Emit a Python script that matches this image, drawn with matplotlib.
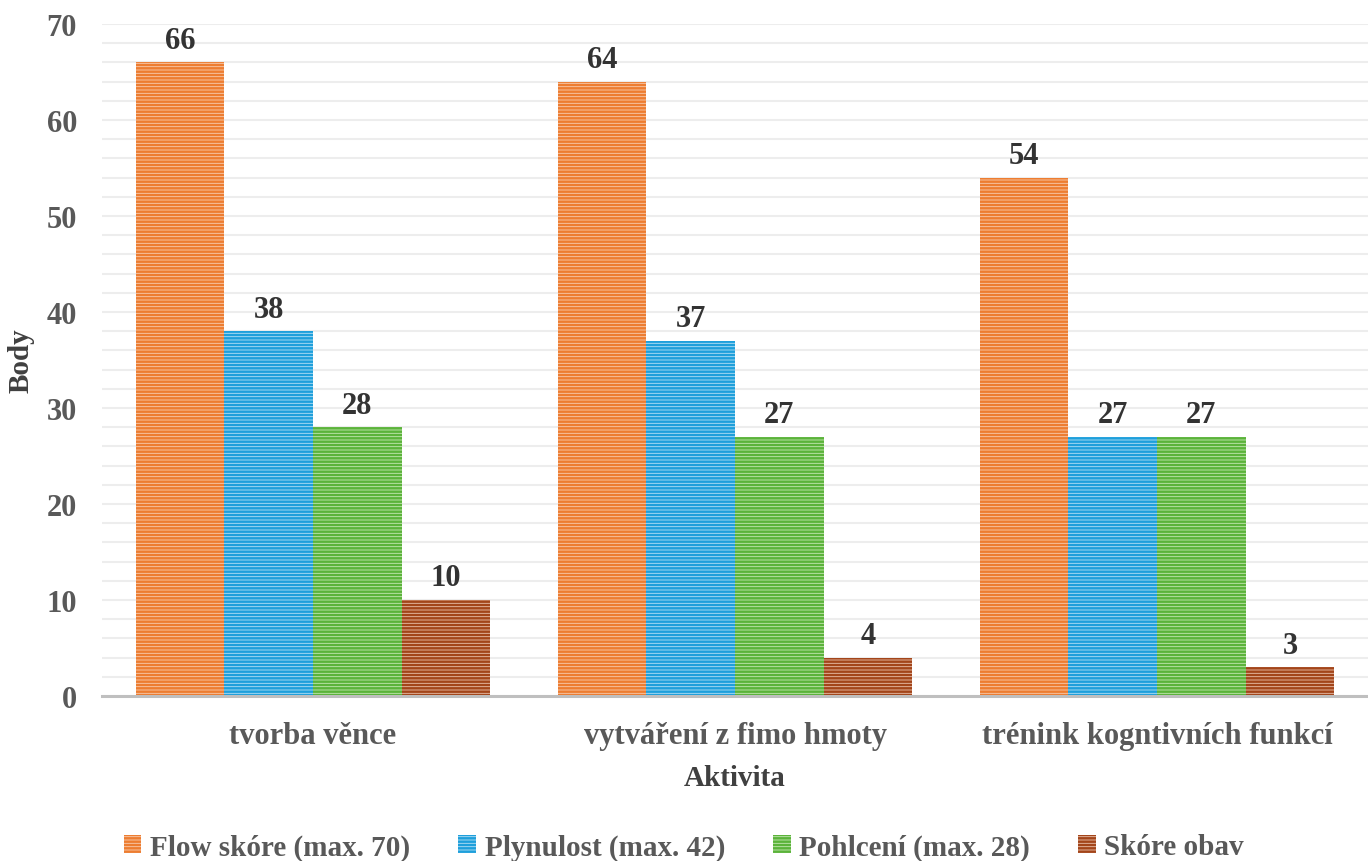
import matplotlib
matplotlib.use("Agg")
import matplotlib.pyplot as plt
import numpy as np
from matplotlib.ticker import MultipleLocator

plt.rcParams['font.family'] = ['Liberation Serif', 'DejaVu Serif']
plt.rcParams['font.weight'] = 'bold'
plt.rcParams['hatch.linewidth'] = 1.8

categories = ["tvorba věnce", "vytváření z fimo hmoty", "trénink kogntivních funkcí"]
series_names = ["Flow skóre (max. 70)", "Plynulost (max. 42)", "Pohlcení (max. 28)", "Skóre obav"]
flow = [66, 64, 54]
plynulost = [38, 37, 27]
pohlceni = [28, 27, 27]
obavy = [10, 4, 3]
series = [flow, plynulost, pohlceni, obavy]

hatch_colors = ["#ED7D31", "#1E9FDB", "#5BB33A", "#A3451A"]
fill_colors = ["#F9CDB0", "#B5E0F5", "#C6E8B6", "#EBC2AE"]

fig = plt.figure(figsize=(13.68, 8.62), dpi=100)
ax = fig.add_axes([102/1368, 165/862, 1 - 102/1368, (697-25)/862])

x = np.arange(len(categories))
w = 0.21
for i, (vals, name) in enumerate(zip(series, series_names)):
    pos = x + (i - 1.5) * w
    ax.bar(pos, vals, width=w, facecolor=fill_colors[i], edgecolor=hatch_colors[i],
           linewidth=0, hatch='-----', label=name, zorder=3)
    for p, v in zip(pos, vals):
        ax.text(p, v + 0.8, str(v), ha='center', va='bottom', fontsize=22,
                fontweight='bold', color='#333333', zorder=4)

ax.set_xlim(-0.5, 2.5)
ax.set_ylim(0, 70)
ax.yaxis.set_major_locator(MultipleLocator(10))
ax.yaxis.set_minor_locator(MultipleLocator(2))
ax.grid(axis='y', which='both', color='#EDEDED', linewidth=1.5, zorder=0)
ax.set_axisbelow(True)
for s in ['top', 'right', 'left']:
    ax.spines[s].set_visible(False)
ax.spines['bottom'].set_color('#BFBFBF')
ax.spines['bottom'].set_linewidth(2.2)
ax.spines['bottom'].set_zorder(5)

ax.set_xticks(x)
ax.set_xticklabels(categories)
ax.tick_params(axis='x', length=0, labelsize=22, labelcolor='#595959', pad=18)
ax.tick_params(axis='y', which='both', length=0, labelsize=22, labelcolor='#595959', pad=18)
for lab in ax.get_yticklabels() + ax.get_xticklabels():
    lab.set_fontweight('bold')

ax.set_ylabel("Body", fontsize=21, fontweight='bold', color='#404040')
ax.yaxis.set_label_coords(-0.053, 0.5)
ax.set_xlabel("Aktivita", fontsize=21, fontweight='bold', color='#404040', labelpad=10)

leg = fig.legend(loc='center', bbox_to_anchor=(0.5, 14/862), ncol=4, frameon=False,
                 handlelength=0.6, handleheight=0.6, handletextpad=0.3,
                 columnspacing=1.65, prop={'weight': 'bold', 'size': 21})
for t in leg.get_texts():
    t.set_color('#595959')

fig.savefig("out.png", dpi=100)
